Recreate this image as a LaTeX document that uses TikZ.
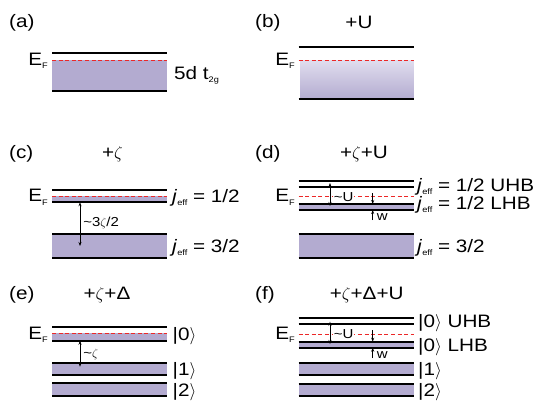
\documentclass[tikz,border=0pt]{standalone}
\usepackage{fontspec}
\setmainfont{Liberation Sans}[FakeStretch=1.15]
\usetikzlibrary{arrows.meta}
\definecolor{bandc}{RGB}{179,171,208}
\definecolor{bandlight}{RGB}{224,221,238}
\definecolor{efred}{RGB}{236,40,40}
\newcommand\EF{E\raisebox{-0.35ex}{\fontsize{8}{8}\selectfont F}}
\newcommand\jeff{\textit{j}\raisebox{-0.35ex}{\fontsize{8}{8}\selectfont eff}}
\newcommand\tsub[1]{\raisebox{-0.35ex}{\fontsize{8}{8}\selectfont #1}}
\newcommand\ket[1]{|#1$\rangle$}
\begin{document}
\begin{tikzpicture}[x=1pt,y=-1pt,
  lvl/.style={line width=2pt},
  efl/.style={draw=efred,line width=0.8pt,dash pattern=on 4pt off 2.6pt},
  txt/.style={inner sep=0pt,anchor=base west,font=\fontsize{18}{20}\selectfont},
  ttl/.style={inner sep=0pt,anchor=base,font=\fontsize{18}{20}\selectfont},
  eflab/.style={inner sep=0pt,anchor=base east,font=\fontsize{18}{20}\selectfont},
  small/.style={inner sep=0.6pt,anchor=base west,font=\fontsize{13}{14}\selectfont},
  gap/.style={{Stealth[length=4pt,width=3pt]}-{Stealth[length=4pt,width=3pt]},line width=0.7pt},
  one/.style={-{Stealth[length=4pt,width=3pt]},line width=0.7pt}]
\useasboundingbox (0,0) rectangle (543,407);

% ---------- (a)
\node[txt] (la) at (9,27) {(a)};
\fill[bandc] (52,60.3) rectangle (167,91);
\draw[lvl] (52,53.3) -- (167,53.3);
\draw[lvl] (52,91) -- (167,91);
\draw[efl] (52,60.3) -- (167,60.3);
\node[eflab] (efa) at (48,65) {\EF};
\node[txt] (ta) at (174,79) {5d t\tsub{2g}};

% ---------- (b)
\node[txt] (lb) at (255,27) {(b)};
\node[ttl] (hb) at (359,28.3) {+U};
\shade[top color=bandlight,bottom color=bandc] (300,60.3) rectangle (413.5,99.3);
\draw[lvl] (298.5,46.7) -- (413.5,46.7);
\draw[lvl] (298.5,99.3) -- (413.5,99.3);
\draw[efl] (298.5,60.3) -- (413.5,60.3);
\node[eflab] (efb) at (295,65) {\EF};

% ---------- (c)
\node[txt] (lc) at (9,158) {(c)};
\node[ttl] (hc) at (112.5,158.3) {+$\zeta$};
\fill[bandc] (52,196.3) rectangle (167,202.3);
\fill[bandc] (52,233.7) rectangle (167,258);
\draw[lvl] (52,190) -- (167,190);
\draw[lvl] (52,202.3) -- (167,202.3);
\draw[lvl] (52,233.7) -- (167,233.7);
\draw[lvl] (52,258) -- (167,258);
\draw[efl] (52,196.3) -- (167,196.3);
\node[eflab] (efc) at (48,201.7) {\EF};
\node[txt] (tc1) at (172,202.5) {\jeff\ = 1/2};
\node[txt] (tc2) at (172,252.5) {\jeff\ = 3/2};
\coordinate (c1) at (80,202.3);
\coordinate (c2) at (80,246);
\draw[gap] (c1) -- (c2);
\node[small] (gc) at (82.5,226.7) {\textasciitilde3$\zeta$/2};

% ---------- (d)
\node[txt] (ld) at (255,158) {(d)};
\node[ttl] (hd) at (364,158.3) {+$\zeta$+U};
\fill[bandc] (298.5,204) rectangle (413.5,210);
\fill[bandc] (298.5,233.7) rectangle (413.5,258.3);
\draw[lvl] (298.5,180.7) -- (413.5,180.7);
\draw[lvl] (298.5,187.3) -- (413.5,187.3);
\draw[lvl] (298.5,204) -- (413.5,204);
\draw[lvl] (298.5,210) -- (413.5,210);
\draw[lvl] (298.5,233.7) -- (413.5,233.7);
\draw[lvl] (298.5,258.3) -- (413.5,258.3);
\draw[efl] (298.5,196.7) -- (413.5,196.7);
\node[eflab] (efd) at (295,201.7) {\EF};
\node[txt] (td1) at (417,191) {\jeff\ = 1/2 UHB};
\node[txt] (td2) at (417,209) {\jeff\ = 1/2 LHB};
\node[txt] (td3) at (417,252.5) {\jeff\ = 3/2};
\coordinate (d1) at (330,183);
\coordinate (d2) at (330,206);
\draw[gap] (d1) -- (d2);
\node[small,fill=white] (ud) at (333,201) {\textasciitilde U};
\coordinate (dw1) at (372.7,193);
\coordinate (dw2) at (372.7,204);
\coordinate (dw3) at (372.7,220);
\coordinate (dw4) at (372.7,210);
\draw[one] (dw1) -- (dw2);
\draw[one] (dw3) -- (dw4);
\node[small] (wd) at (376,220.7) {w};

% ---------- (e)
\node[txt] (le) at (9,299) {(e)};
\node[ttl] (he) at (107,299) {+$\zeta$+Δ};
\fill[bandc] (52,333.3) rectangle (167,340.7);
\fill[bandc] (52,362.7) rectangle (167,375);
\fill[bandc] (52,383.3) rectangle (167,395.7);
\draw[lvl] (52,327.3) -- (167,327.3);
\draw[lvl] (52,340.7) -- (167,340.7);
\draw[lvl] (52,362.7) -- (167,362.7);
\draw[lvl] (52,375) -- (167,375);
\draw[lvl] (52,383.3) -- (167,383.3);
\draw[lvl] (52,395.7) -- (167,395.7);
\draw[efl] (52,333.3) -- (167,333.3);
\node[eflab] (efe) at (48,339) {\EF};
\node[txt] (te0) at (172.5,340.5) {\ket{0}};
\node[txt] (te1) at (172.5,375.5) {\ket{1}};
\node[txt] (te2) at (172.5,396) {\ket{2}};
\coordinate (e1) at (80,340.7);
\coordinate (e2) at (80,366.7);
\draw[gap] (e1) -- (e2);
\node[small] (ge) at (82.5,357) {\textasciitilde$\zeta$};

% ---------- (f)
\node[txt] (lf) at (255,299) {(f)};
\node[ttl] (hf) at (366.7,299) {+$\zeta$+Δ+U};
\fill[bandc] (298.5,341.7) rectangle (413.5,347.7);
\fill[bandc] (298.5,363.3) rectangle (413.5,375);
\fill[bandc] (298.5,383.7) rectangle (413.5,395.7);
\draw[lvl] (298.5,318.3) -- (413.5,318.3);
\draw[lvl] (298.5,324.3) -- (413.5,324.3);
\draw[lvl] (298.5,341.7) -- (413.5,341.7);
\draw[lvl] (298.5,347.7) -- (413.5,347.7);
\draw[lvl] (298.5,363.3) -- (413.5,363.3);
\draw[lvl] (298.5,375) -- (413.5,375);
\draw[lvl] (298.5,383.7) -- (413.5,383.7);
\draw[lvl] (298.5,395.7) -- (413.5,395.7);
\draw[efl] (298.5,334) -- (413.5,334);
\node[eflab] (eff) at (295,339) {\EF};
\node[txt] (tf0) at (418,327.5) {\ket{0} UHB};
\node[txt] (tf1) at (418,351) {\ket{0} LHB};
\node[txt] (tf2) at (418,375.5) {\ket{1}};
\node[txt] (tf3) at (418,396) {\ket{2}};
\coordinate (f1) at (330,321.7);
\coordinate (f2) at (330,344);
\draw[gap] (f1) -- (f2);
\node[small,fill=white] (uf) at (333,338.3) {\textasciitilde U};
\coordinate (fw1) at (372.7,330);
\coordinate (fw2) at (372.7,341.7);
\coordinate (fw3) at (372.7,358);
\coordinate (fw4) at (372.7,347.7);
\draw[one] (fw1) -- (fw2);
\draw[one] (fw3) -- (fw4);
\node[small] (wf) at (376,358.3) {w};
\end{tikzpicture}
\end{document}
